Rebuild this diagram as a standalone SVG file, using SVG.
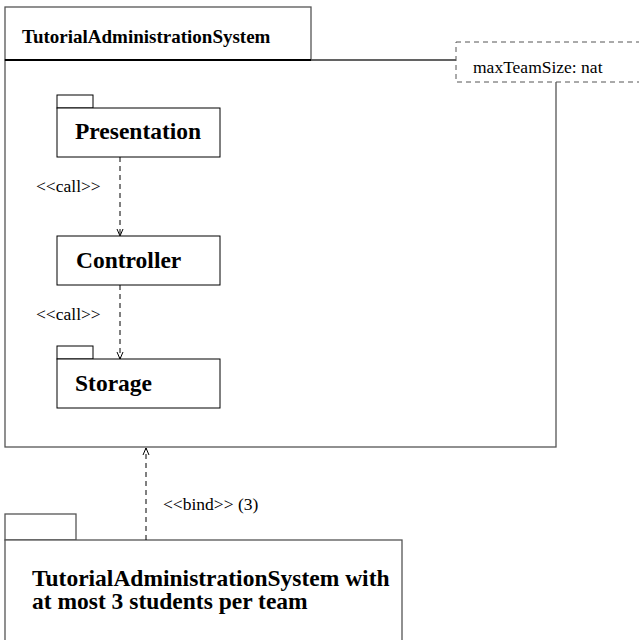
<svg xmlns="http://www.w3.org/2000/svg" width="639" height="640" viewBox="0 0 639 640">
<defs>
<style>
.frame{fill:#fff;stroke:#555;stroke-width:1.3}
.box{fill:#fff;stroke:#000;stroke-width:1}
.dep{fill:none;stroke:#000;stroke-width:1;stroke-dasharray:5,4}
.ttl{font-family:"Liberation Serif",serif;font-weight:bold;font-size:19px;fill:#000}
.nm{font-family:"Liberation Serif",serif;font-weight:bold;font-size:23.5px;fill:#000}
.lbl{font-family:"Liberation Serif",serif;font-size:17.5px;fill:#000}
</style>
<marker id="open" markerWidth="10" markerHeight="10" refX="8" refY="5" orient="auto" markerUnits="userSpaceOnUse">
<path d="M1,2 L8,5 L1,8" fill="none" stroke="#000" stroke-width="1"/>
</marker>
</defs>
<g id="TutorialAdministrationSystem">
<rect class="frame" x="5" y="60" width="551" height="387"/>
<rect class="frame" x="5" y="7" width="306" height="53"/>
<line x1="5" y1="60" x2="311" y2="60" stroke="#000" stroke-width="2"/>
<text class="ttl" x="22" y="43">TutorialAdministrationSystem</text>
</g>
<g id="param">
<line x1="311" y1="60" x2="456" y2="60" stroke="#555" stroke-width="1.3"/>
<rect x="456" y="42" width="190" height="40" fill="#fff" stroke="#555" stroke-width="1" stroke-dasharray="5,4"/>
<text class="lbl" x="473" y="73">maxTeamSize: nat</text>
</g>
<g id="Presentation">
<rect class="box" x="57" y="95" width="36" height="13"/>
<rect class="box" x="57" y="108" width="163" height="49"/>
<text class="nm" x="75" y="139">Presentation</text>
</g>
<g id="Controller">
<rect class="box" x="57" y="236" width="163" height="49"/>
<text class="nm" x="76" y="268">Controller</text>
</g>
<g id="Storage">
<rect class="box" x="57" y="346" width="36" height="13"/>
<rect class="box" x="57" y="359" width="163" height="49"/>
<text class="nm" x="75" y="391">Storage</text>
</g>
<g id="Bound">
<rect class="frame" x="5" y="514" width="71" height="26"/>
<rect class="frame" x="5" y="540" width="397" height="110"/>
<text class="nm" x="32" y="586">TutorialAdministrationSystem with</text>
<text class="nm" x="32" y="609">at most 3 students per team</text>
</g>
<g id="connectors">
<line class="dep" x1="120" y1="157" x2="120" y2="236" marker-end="url(#open)"/>
<text class="lbl" x="36" y="192">&lt;&lt;call&gt;&gt;</text>
<line class="dep" x1="120" y1="285" x2="120" y2="359" marker-end="url(#open)"/>
<text class="lbl" x="36" y="320">&lt;&lt;call&gt;&gt;</text>
<line class="dep" x1="146" y1="540" x2="146" y2="448" marker-end="url(#open)"/>
<text class="lbl" x="163" y="510">&lt;&lt;bind&gt;&gt; (3)</text>
</g>
</svg>
